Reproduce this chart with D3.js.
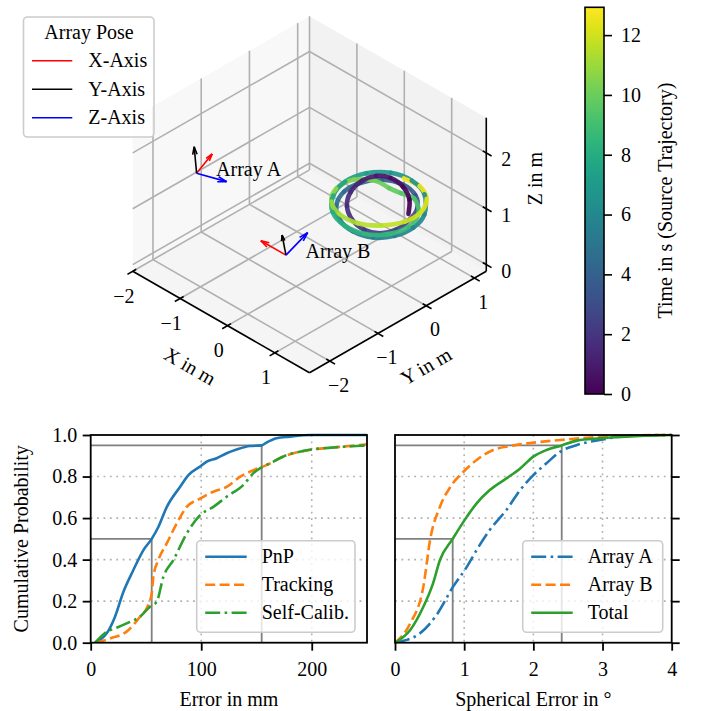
<!DOCTYPE html>
<html>
<head>
<meta charset="utf-8">
<script src="https://cdn.jsdelivr.net/npm/d3@7"></script>
<style>
  body { margin: 0; background: #fff; }
  svg text { font-family: "Liberation Serif", "Times New Roman", serif; font-size: 20px; fill: #000; }
</style>
</head>
<body>
<svg id="fig" width="702" height="711"></svg>
<script>
// ---------------- data ----------------
// Source trajectory (loops around a centre point, azimuth in degrees, radius and height in m)
const trajTime = [0, 0.25, 0.5, 0.75, 1, 1.25, 1.5, 1.75, 2, 2.25, 2.5, 2.75, 3, 3.25, 3.5, 3.75, 4, 4.25, 4.5, 4.75,
  5, 5.25, 5.5, 5.75, 6, 6.25, 6.5, 6.75, 7, 7.25, 7.5, 7.75, 8, 8.25, 8.5, 8.75, 9, 9.25, 9.5, 9.75,
  10, 10.25, 10.5, 10.75, 11, 11.25, 11.5, 11.75, 12, 12.25, 12.5, 12.75, 12.93];
const trajAzimuth = [25, 54, 83, 113, 142, 171, 200, 229, 258, 287, 317, 346, 15, 44, 73, 102, 132, 161, 190, 219,
  248, 277, 307, 336, 5, 34, 63, 93, 122, 151, 180, 209, 239, 268, 297, 326, 355, 25, 54, 83,
  113, 142, 171, 201, 230, 259, 289, 318, 348, 17, 47, 76, 102];
const trajRadius = [0.46, 0.45, 0.44, 0.43, 0.44, 0.45, 0.47, 0.48, 0.47, 0.46, 0.47, 0.49, 0.52, 0.56, 0.60, 0.62, 0.63, 0.63, 0.64, 0.64,
  0.63, 0.63, 0.64, 0.65, 0.66, 0.68, 0.70, 0.71, 0.72, 0.72, 0.72, 0.71, 0.71, 0.70, 0.70, 0.69, 0.68, 0.62, 0.52, 0.40,
  0.38, 0.50, 0.64, 0.70, 0.71, 0.71, 0.71, 0.70, 0.70, 0.70, 0.70, 0.69, 0.66];
const trajHeight = [1.13, 1.23, 1.32, 1.39, 1.40, 1.36, 1.28, 1.19, 1.09, 1.02, 1.00, 1.03, 1.10, 1.12, 1.16, 1.19, 1.20, 1.19, 1.17, 1.13,
  1.09, 1.06, 1.04, 1.05, 1.07, 1.10, 1.22, 1.25, 1.27, 1.27, 1.25, 1.22, 1.18, 1.15, 1.13, 1.13, 1.15, 1.18, 1.24, 1.22,
  1.24, 1.27, 1.28, 1.28, 1.29, 1.30, 1.30, 1.30, 1.29, 1.28, 1.27, 1.27, 1.27];
const loopCentre = [0.72, 0.02];

// Array poses: origin and the three axis vectors (m)
const arrayNames = ["Array A", "Array B"];
const arrayOrigin = [[-1.67, -1.42, 1.3], [0.47, -1.67, 1.0]];
const arrayXAxis = [[-0.19, 0.51, 0], [-0.53, 0, 0]];
const arrayYAxis = [[0, -0.05, 0.5], [0, -0.08, 0.40]];
const arrayZAxis = [[0.47, 0.16, 0], [0, 0.45, 0.18]];
const poseAxisNames = ["X-Axis", "Y-Axis", "Z-Axis"];
const poseAxisColors = ["#ff0000", "#000000", "#0000ff"];

// 3D axis limits and ticks
const xLim3d = [-2.0, 1.73], yLim3d = [-2.42, 1.245], zLim3d = [-0.12, 2.63];
const xTicks3d = [-2, -1, 0, 1], yTicks3d = [-2, -1, 0, 1], zTicks3d = [0, 1, 2];
const cbTicks = [0, 2, 4, 6, 8, 10, 12];

// Position error CDFs (mm)
const pnpErr = [4, 10, 14.5, 22, 29.6, 38.6, 47.7, 55.2, 61.2, 68.8, 80.8, 88.4, 99, 105, 114, 123, 132, 144, 154.7, 159, 168, 180, 200, 250];
const pnpCdf = [0, 0.02, 0.045, 0.125, 0.245, 0.35, 0.446, 0.50, 0.557, 0.653, 0.75, 0.807, 0.848, 0.872, 0.888, 0.912, 0.93, 0.947, 0.95, 0.963, 0.984, 0.992, 1.0, 1.0];
const trackErr = [5, 17.5, 34, 44.6, 52, 55.2, 56.7, 61.2, 68.8, 77.8, 86.9, 99, 111, 123, 135, 147, 159, 174, 189, 200, 219.6, 243.7, 250];
const trackCdf = [0, 0.02, 0.06, 0.125, 0.18, 0.237, 0.318, 0.398, 0.478, 0.574, 0.654, 0.694, 0.727, 0.75, 0.798, 0.83, 0.855, 0.895, 0.919, 0.93, 0.94, 0.952, 0.955];
const selfErr = [4, 14.5, 22, 35.6, 44.6, 53.6, 59.7, 65.8, 74.8, 86.9, 99, 111, 123, 138, 147, 165, 177.4, 189, 200, 219.6, 243.7, 250];
const selfCdf = [0, 0.053, 0.069, 0.1, 0.125, 0.173, 0.197, 0.318, 0.398, 0.526, 0.614, 0.654, 0.703, 0.759, 0.815, 0.871, 0.903, 0.919, 0.93, 0.94, 0.948, 0.95];
const posMedian = 55.2, pos95 = 154.7;

// Spherical (angular) error CDFs (degrees)
const arrAErr = [0, 0.36, 0.60, 0.84, 1.04, 1.18, 1.37, 1.61, 1.81, 2.0, 2.19, 2.39, 2.63, 2.96, 3.35, 4];
const arrACdf = [0, 0.045, 0.133, 0.27, 0.366, 0.446, 0.543, 0.639, 0.735, 0.807, 0.864, 0.92, 0.952, 0.976, 0.995, 1];
const arrBErr = [0, 0.22, 0.41, 0.51, 0.65, 0.80, 0.99, 1.18, 1.42, 1.66, 2.0, 2.39, 2.87, 3.35, 4];
const arrBCdf = [0, 0.093, 0.27, 0.50, 0.655, 0.75, 0.823, 0.88, 0.928, 0.947, 0.963, 0.976, 0.989, 0.997, 1];
const totalErr = [0, 0.22, 0.41, 0.55, 0.65, 0.834, 1.04, 1.18, 1.37, 1.61, 1.81, 2.0, 2.19, 2.41, 2.63, 2.96, 3.35, 4];
const totalCdf = [0, 0.061, 0.173, 0.286, 0.398, 0.5, 0.607, 0.671, 0.735, 0.791, 0.839, 0.896, 0.928, 0.95, 0.973, 0.984, 0.992, 1];
const angMedian = 0.834, ang95 = 2.41;

const posTicks = [0, 100, 200], angTicks = [0, 1, 2, 3, 4], probTicks = [0, 0.2, 0.4, 0.6, 0.8, 1.0];

// ---------------- drawing ----------------
const FONT = '"Liberation Serif", "Times New Roman", serif';
const svg = d3.select("#fig");
svg.append("rect").attr("width", 702).attr("height", 711).attr("fill", "#fff");

// ---- 3D view (orthographic, elevation 35 deg, azimuth -45 deg, box aspect 4:4:3) ----
const elev = 35 * Math.PI / 180, ctrX = 309.5, ctrY = 194.5;
const nx = d3.scaleLinear().domain(xLim3d).range([-125, 125]);
const ny = d3.scaleLinear().domain(yLim3d).range([-125, 125]);
const nz = d3.scaleLinear().domain(zLim3d).range([-93.75, 93.75]);
function project(p) {
  const X = nx(p[0]), Y = ny(p[1]), Z = nz(p[2]);
  return {
    x: ctrX + (X + Y) / Math.SQRT2,
    y: ctrY + Math.sin(elev) * (X - Y) / Math.SQRT2 - Math.cos(elev) * Z,
    d: Math.cos(elev) * (X - Y) / Math.SQRT2 + Math.sin(elev) * Z
  };
}
const [x0, x1] = xLim3d, [y0, y1] = yLim3d, [z0, z1] = zLim3d;
const g3 = svg.append("g");
const poly = pts => pts.map(project).map(q => q.x + "," + q.y).join(" ");

// panes
[
  { pts: [[x0, y0, z0], [x0, y1, z0], [x0, y1, z1], [x0, y0, z1]], fill: "rgba(242,242,242,0.5)" },
  { pts: [[x0, y1, z0], [x1, y1, z0], [x1, y1, z1], [x0, y1, z1]], fill: "rgba(230,230,230,0.5)" },
  { pts: [[x0, y0, z0], [x1, y0, z0], [x1, y1, z0], [x0, y1, z0]], fill: "rgba(236,236,236,0.5)" }
].forEach(p => g3.append("polygon").attr("points", poly(p.pts)).attr("fill", p.fill));

// grid lines on the panes
const gridSegs = [];
xTicks3d.forEach(v => { gridSegs.push([[v, y0, z0], [v, y1, z0]]); gridSegs.push([[v, y1, z0], [v, y1, z1]]); });
yTicks3d.forEach(v => { gridSegs.push([[x0, v, z0], [x1, v, z0]]); gridSegs.push([[x0, v, z0], [x0, v, z1]]); });
zTicks3d.forEach(v => { gridSegs.push([[x0, y0, v], [x0, y1, v]]); gridSegs.push([[x0, y1, v], [x1, y1, v]]); });
gridSegs.forEach(s => {
  const a = project(s[0]), b = project(s[1]);
  g3.append("line").attr("x1", a.x).attr("y1", a.y).attr("x2", b.x).attr("y2", b.y)
    .attr("stroke", "#b0b0b0").attr("stroke-width", 1.6);
});

// axis lines
[[[x0, y0, z0], [x1, y0, z0]], [[x1, y0, z0], [x1, y1, z0]], [[x1, y1, z0], [x1, y1, z1]]].forEach(s => {
  const a = project(s[0]), b = project(s[1]);
  g3.append("line").attr("x1", a.x).attr("y1", a.y).attr("x2", b.x).attr("y2", b.y)
    .attr("stroke", "#000").attr("stroke-width", 1.6);
});

// ticks and tick labels
const ySpan = y1 - y0, xSpan = x1 - x0;
const fmtTick = v => (v < 0 ? "\u2212" + Math.abs(v) : String(v));
function tick3d(pIn, pOut, label, dx, dy) {
  const a = project(pIn), b = project(pOut);
  g3.append("line").attr("x1", a.x).attr("y1", a.y).attr("x2", b.x).attr("y2", b.y)
    .attr("stroke", "#000").attr("stroke-width", 1.6);
  const m = project([(pIn[0] + pOut[0]) / 2, (pIn[1] + pOut[1]) / 2, (pIn[2] + pOut[2]) / 2]);
  g3.append("text").attr("x", m.x + dx).attr("y", m.y + dy).attr("dy", "0.35em")
    .attr("text-anchor", "middle").text(label);
}
xTicks3d.forEach(v => tick3d([v, y0 + 0.02 * ySpan, z0], [v, y0 - 0.03 * ySpan, z0], fmtTick(v), -8, 24));
yTicks3d.forEach(v => tick3d([x1 - 0.02 * xSpan, v, z0], [x1 + 0.03 * xSpan, v, z0], fmtTick(v), 8, 23));
zTicks3d.forEach(v => tick3d([x1 - 0.02 * xSpan, y1, v], [x1 + 0.03 * xSpan, y1, v], fmtTick(v), 19, 6));

// axis titles
const xMid = project([(x0 + x1) / 2, y0, z0]), yMid = project([x1, (y0 + y1) / 2, z0]), zMid = project([x1, y1, (z0 + z1) / 2]);
g3.append("text").attr("transform", `translate(${xMid.x - 31},${xMid.y + 44}) rotate(30)`)
  .attr("text-anchor", "middle").attr("dy", "0.35em").text("X in m");
g3.append("text").attr("transform", `translate(${yMid.x + 28},${yMid.y + 44}) rotate(-30)`)
  .attr("text-anchor", "middle").attr("dy", "0.35em").text("Y in m");
g3.append("text").attr("transform", `translate(${zMid.x + 49},${zMid.y - 16}) rotate(-90)`)
  .attr("text-anchor", "middle").attr("dy", "0.35em").text("Z in m");

// trajectory coloured by time
const colour = d3.scaleSequential(d3.interpolateViridis).domain(d3.extent(trajTime));
const trajPts = trajTime.map((t, i) => {
  const a = trajAzimuth[i] * Math.PI / 180;
  return project([loopCentre[0] + trajRadius[i] * Math.cos(a), loopCentre[1] + trajRadius[i] * Math.sin(a), trajHeight[i]]);
});
const segs = [];
for (let i = 0; i < trajPts.length - 1; i++) {
  const p0 = trajPts[Math.max(i - 1, 0)], p1 = trajPts[i], p2 = trajPts[i + 1], p3 = trajPts[Math.min(i + 2, trajPts.length - 1)];
  const c1 = [p1.x + (p2.x - p0.x) / 6, p1.y + (p2.y - p0.y) / 6];
  const c2 = [p2.x - (p3.x - p1.x) / 6, p2.y - (p3.y - p1.y) / 6];
  segs.push({ d: `M${p1.x},${p1.y}C${c1[0]},${c1[1]} ${c2[0]},${c2[1]} ${p2.x},${p2.y}`,
    depth: (p1.d + p2.d) / 2, t: trajTime[i] });
}
segs.sort((a, b) => a.depth - b.depth);
g3.append("g").selectAll("path").data(segs).join("path")
  .attr("d", s => s.d).attr("fill", "none").attr("stroke", s => colour(s.t))
  .attr("stroke-width", 4.6).attr("stroke-linecap", "round").attr("stroke-opacity", 0.92);

// array pose arrows
function arrow(o, v, col) {
  const a = project(o), b = project([o[0] + v[0], o[1] + v[1], o[2] + v[2]]);
  const len = Math.hypot(b.x - a.x, b.y - a.y), ang = Math.atan2(b.y - a.y, b.x - a.x);
  const hl = 0.3 * len, ha = 16 * Math.PI / 180;
  const g = g3.append("g").attr("stroke", col).attr("stroke-width", 1.6).attr("fill", "none");
  g.append("line").attr("x1", a.x).attr("y1", a.y).attr("x2", b.x).attr("y2", b.y);
  [-ha, ha].forEach(s => g.append("line").attr("x1", b.x).attr("y1", b.y)
    .attr("x2", b.x - hl * Math.cos(ang + s)).attr("y2", b.y - hl * Math.sin(ang + s)));
}
arrayNames.forEach((name, i) => {
  const o = arrayOrigin[i];
  arrow(o, arrayXAxis[i], poseAxisColors[0]);
  arrow(o, arrayYAxis[i], poseAxisColors[1]);
  arrow(o, arrayZAxis[i], poseAxisColors[2]);
  const p = project(o);
  g3.append("text").attr("x", p.x + 19.5).attr("y", p.y + 2.5).text(name);
});

// pose legend
const lg = svg.append("g");
lg.append("rect").attr("x", 23.5).attr("y", 17).attr("width", 130.5).attr("height", 120).attr("rx", 4)
  .attr("fill", "#fff").attr("fill-opacity", 0.8).attr("stroke", "#cccccc").attr("stroke-width", 1.6);
lg.append("text").attr("x", 89).attr("y", 39).attr("text-anchor", "middle").text("Array Pose");
poseAxisNames.forEach((n, i) => {
  const y = 60.7 + i * 28.5;
  lg.append("line").attr("x1", 32).attr("x2", 72.3).attr("y1", y).attr("y2", y)
    .attr("stroke", poseAxisColors[i]).attr("stroke-width", 1.6);
  lg.append("text").attr("x", 88.3).attr("y", y).attr("dy", "0.32em").text(n);
});

// colorbar
const cbScale = d3.scaleLinear().domain(d3.extent(trajTime)).range([394, 7.3]);
const grad = svg.append("defs").append("linearGradient").attr("id", "cbgrad")
  .attr("x1", 0).attr("y1", 1).attr("x2", 0).attr("y2", 0);
d3.range(0, 1.0001, 0.05).forEach(f => grad.append("stop").attr("offset", f).attr("stop-color", d3.interpolateViridis(f)));
svg.append("rect").attr("x", 585).attr("y", 7.3).attr("width", 19).attr("height", 394 - 7.3)
  .attr("fill", "url(#cbgrad)").attr("stroke", "#000").attr("stroke-width", 1.6);
const cbAxis = svg.append("g").attr("transform", "translate(604,0)")
  .call(d3.axisRight(cbScale).tickValues(cbTicks).tickSize(8).tickPadding(9));
cbAxis.attr("font-size", 20).attr("font-family", FONT);
cbAxis.select(".domain").remove();
cbAxis.selectAll("line").attr("stroke", "#000").attr("stroke-width", 1.6);
cbAxis.selectAll("text").attr("fill", "#000");
svg.append("text").attr("transform", "translate(672,200.6) rotate(-90)").attr("text-anchor", "middle")
  .text("Time in s (Source Trajectory)");

// ---- CDF panels ----
const yP = d3.scaleLinear().domain([0, 1]).range([642.7, 435]);
const xL = d3.scaleLinear().domain([0, 250]).range([90.7, 367]);
const xR = d3.scaleLinear().domain([0, 4]).range([395, 671.7]);
const defs = svg.select("defs");
const DASHED = "10,4.4", DASHDOT = "15,4.4,2.6,4.4";

function panel(id, xs, xTicks, series, med, p95, legendX, ticksLeft) {
  const [ax0, ax1] = xs.range(), [ay0, ay1] = [yP(1), yP(0)];
  defs.append("clipPath").attr("id", id).append("rect")
    .attr("x", ax0).attr("y", ay0 - 2).attr("width", ax1 - ax0).attr("height", ay1 - ay0 + 2);
  const g = svg.append("g");
  // dotted grid
  xTicks.slice(1, -1).concat(xs.domain()[1] > xTicks[xTicks.length - 1] ? [xTicks[xTicks.length - 1]] : []).forEach(v =>
    g.append("line").attr("x1", xs(v)).attr("x2", xs(v)).attr("y1", ay0).attr("y2", ay1)
      .attr("stroke", "#b0b0b0").attr("stroke-width", 1.6).attr("stroke-dasharray", "1.8,4.6"));
  probTicks.slice(1, -1).forEach(v =>
    g.append("line").attr("x1", ax0).attr("x2", ax1).attr("y1", yP(v)).attr("y2", yP(v))
      .attr("stroke", "#b0b0b0").attr("stroke-width", 1.6).attr("stroke-dasharray", "1.8,4.6"));
  // median / 95th percentile guides
  [[med, 0.5], [p95, 0.95]].forEach(([v, p]) => {
    g.append("path").attr("d", `M${ax0},${yP(p)}H${xs(v)}V${ay1}`)
      .attr("fill", "none").attr("stroke", "#808080").attr("stroke-width", 1.8);
  });
  // curves
  const cg = g.append("g").attr("clip-path", `url(#${id})`);
  series.forEach(s => {
    const pts = s.x.map((v, i) => [v, s.y[i]]);
    cg.append("path").attr("d", d3.line().x(d => xs(d[0])).y(d => yP(d[1])).curve(d3.curveMonotoneX)(pts))
      .attr("fill", "none").attr("stroke", s.color).attr("stroke-width", 2.6)
      .attr("stroke-dasharray", s.dash || null);
  });
  // spines
  g.append("rect").attr("x", ax0).attr("y", ay0).attr("width", ax1 - ax0).attr("height", ay1 - ay0)
    .attr("fill", "none").attr("stroke", "#000").attr("stroke-width", 1.8);
  // axes
  const bx = g.append("g").attr("transform", `translate(0,${ay1})`)
    .call(d3.axisBottom(xs).tickValues(xTicks).tickSize(8).tickPadding(11).tickFormat(d3.format("d")));
  const by = ticksLeft
    ? g.append("g").attr("transform", `translate(${ax0},0)`)
        .call(d3.axisLeft(yP).tickValues(probTicks).tickSize(8).tickPadding(5.5).tickFormat(d3.format(".1f")))
    : g.append("g").attr("transform", `translate(${ax1},0)`)
        .call(d3.axisRight(yP).tickValues(probTicks).tickSize(8).tickFormat(""));
  [bx, by].forEach(a => {
    a.attr("font-size", 20).attr("font-family", FONT);
    a.select(".domain").remove();
    a.selectAll("line").attr("stroke", "#000").attr("stroke-width", 1.8);
    a.selectAll("text").attr("fill", "#000");
  });
  // legend
  const lgd = g.append("g");
  lgd.append("rect").attr("x", legendX).attr("y", 540.7).attr("width", legendX === 196.7 ? 158.3 : 140).attr("height", 91.6)
    .attr("rx", 4).attr("fill", "#fff").attr("fill-opacity", 0.8).attr("stroke", "#cccccc").attr("stroke-width", 1.6);
  series.forEach((s, i) => {
    const y = 556.7 + i * 28;
    lgd.append("line").attr("x1", legendX + 8.5).attr("x2", legendX + 50).attr("y1", y).attr("y2", y)
      .attr("stroke", s.color).attr("stroke-width", 2.6).attr("stroke-dasharray", s.dash || null);
    lgd.append("text").attr("x", legendX + 65).attr("y", y).attr("dy", "0.32em").text(s.name);
  });
}

panel("clipL", xL, posTicks, [
  { name: "PnP", x: pnpErr, y: pnpCdf, color: "#1f77b4" },
  { name: "Tracking", x: trackErr, y: trackCdf, color: "#ff7f0e", dash: DASHED },
  { name: "Self-Calib.", x: selfErr, y: selfCdf, color: "#2ca02c", dash: DASHDOT }
], posMedian, pos95, 196.7, true);

panel("clipR", xR, angTicks, [
  { name: "Array A", x: arrAErr, y: arrACdf, color: "#1f77b4", dash: DASHDOT },
  { name: "Array B", x: arrBErr, y: arrBCdf, color: "#ff7f0e", dash: DASHED },
  { name: "Total", x: totalErr, y: totalCdf, color: "#2ca02c" }
], angMedian, ang95, 522.7, false);

// axis titles of the CDF panels
svg.append("text").attr("transform", "translate(27.5,538.8) rotate(-90)").attr("text-anchor", "middle").text("Cumulative Probability");
svg.append("text").attr("x", 228.9).attr("y", 706).attr("text-anchor", "middle").text("Error in mm");
svg.append("text").attr("x", 533.4).attr("y", 706).attr("text-anchor", "middle").text("Spherical Error in \u00b0");
</script>
</body>
</html>
